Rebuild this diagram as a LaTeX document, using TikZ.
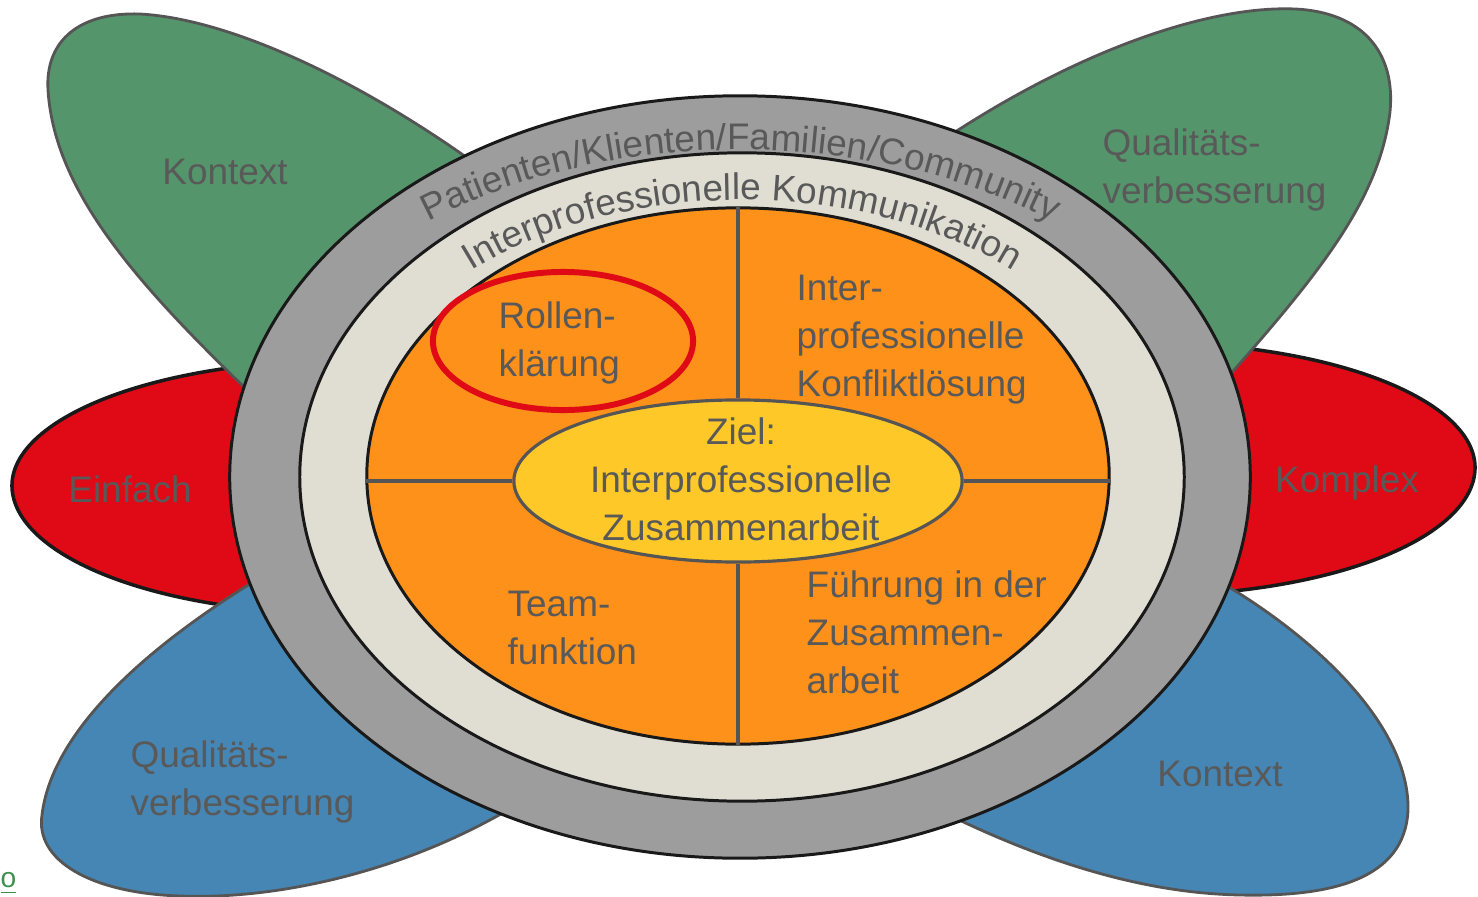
\documentclass[tikz,border=0pt]{standalone}
\usepackage{fontspec}
\setmainfont{Liberation Sans}
\usetikzlibrary{shapes.geometric,decorations.text}
\definecolor{leafgreen}{HTML}{55956B}
\definecolor{leafblue}{HTML}{4686B4}
\definecolor{leafred}{HTML}{E00A16}
\definecolor{bandgray}{HTML}{9D9D9D}
\definecolor{bandbeige}{HTML}{E0DDD3}
\definecolor{coreorange}{HTML}{FD911A}
\definecolor{goalyellow}{HTML}{FDC828}
\definecolor{txtgray}{HTML}{595959}
\definecolor{edgegray}{HTML}{555555}
\definecolor{linkgreen}{HTML}{3F8F50}
\newcommand{\arcfont}{\fontsize{10.5}{12}\selectfont\color{txtgray}}
\begin{document}
\begin{tikzpicture}[x=0.01cm,y=-0.01cm,
  every node/.style={inner sep=0pt,text=txtgray,font=\fontsize{10.5}{13.66}\selectfont},
  leaf/.style={draw=edgegray,line width=0.8pt},
  redleaf/.style={draw=black!90,fill=leafred,line width=1pt},
  oval/.style={ellipse,draw=black!90,line width=0.85pt,inner sep=0pt},
  divider/.style={draw=edgegray,line width=0.9pt}]

\useasboundingbox (0,0) rectangle (1478,897);

% Blaetter
\draw [redleaf] (350,360) .. controls (150,360) and (10,420) .. (12,487)
  .. controls (14,554) and (150,614) .. (350,614) -- cycle;
\draw [redleaf] (1137,342) .. controls (1337,342) and (1477,402) .. (1475,469)
  .. controls (1473,536) and (1337,596) .. (1137,596) -- cycle;
\draw [leaf,fill=leafgreen] (560,230) .. controls (420,110) and (250,20) .. (140,14)
  .. controls (80,12) and (45,40) .. (48,90) .. controls (55,200) and (150,300) .. (300,440) -- cycle;
\draw [leaf,fill=leafgreen] (900,170) .. controls (1050,60) and (1200,5) .. (1295,9)
  .. controls (1360,12) and (1396,50) .. (1390,112) .. controls (1378,210) and (1305,290) .. (1190,420) -- cycle;
\draw [leaf,fill=leafblue] (540,790) .. controls (420,870) and (280,900) .. (180,896)
  .. controls (90,893) and (35,860) .. (42,815) .. controls (52,730) and (150,640) .. (290,560) -- cycle;
\draw [leaf,fill=leafblue] (1180,560) .. controls (1300,620) and (1410,720) .. (1408,810)
  .. controls (1405,880) and (1330,897) .. (1240,895) .. controls (1140,893) and (1030,860) .. (900,790) -- cycle;

% Ringe
\node [oval,fill=bandgray,minimum width=10.2cm,minimum height=7.62cm] (kunde) at (740,477) {};
\node [oval,fill=bandbeige,minimum width=8.84cm,minimum height=6.48cm] (komm) at (742,477) {};
\node [oval,fill=coreorange,minimum width=7.42cm,minimum height=5.36cm] (kern) at (738,476) {};

\path [decorate,decoration={text along path,text align=center,
  text={|\arcfont|Patienten/Klienten/Familien/Community}}]
  (240,477) arc [start angle=180,end angle=0,x radius=5cm,y radius=3.27cm];
\path [decorate,decoration={text along path,text align=center,
  text={|\arcfont|Interprofessionelle Kommunikation}}]
  (337,477) arc [start angle=180,end angle=0,x radius=4.05cm,y radius=2.77cm];

% Ziel
\node [ellipse,draw=edgegray,line width=0.9pt,fill=goalyellow,minimum width=4.48cm,minimum height=1.62cm] (ziel) at (738,481) {};

\draw [divider] (ziel.north) -- (ziel.north |- kern.north);
\draw [divider] (ziel.south) -- (ziel.south |- kern.south);
\draw [divider] (ziel.west) -- (ziel.west -| kern.west);
\draw [divider] (ziel.east) -- (ziel.east -| kern.east);

\node [ellipse,draw=leafred,line width=1.7pt,minimum width=2.6cm,minimum height=1.38cm] (rolle) at (563,341) {};

% Texte
\node [anchor=west,align=left] (rolletext) at (498,343) {Rollen-\\klärung};
\node [anchor=base] (kontextA) at (225,184) {Kontext};
\node [anchor=west,align=left] (qualA) at (1102,170) {Qualitäts-\\verbesserung};
\node [anchor=base] (einfach) at (130,502) {Einfach};
\node [anchor=base] (komplex) at (1347,492) {Komplex};
\node [anchor=west,align=left] (qualB) at (130,782) {Qualitäts-\\verbesserung};
\node [anchor=base] (kontextB) at (1220,786) {Kontext};
\node [anchor=west,align=left] (konflikt) at (796,340) {Inter-\\professionelle\\Konfliktlösung};
\node [align=center] (zieltext) at (741,479) {Ziel:\\Interprofessionelle\\Zusammenarbeit};
\node [anchor=west,align=left] (team) at (507,628) {Team-\\funktion};
\node [anchor=west,align=left] (fuehrung) at (806,632) {Führung in der\\Zusammen-\\arbeit};
\node [anchor=base west,font=\fontsize{8}{9}\selectfont,text=linkgreen] (link) at (0,887) {\underline{o}};

\end{tikzpicture}
\end{document}
